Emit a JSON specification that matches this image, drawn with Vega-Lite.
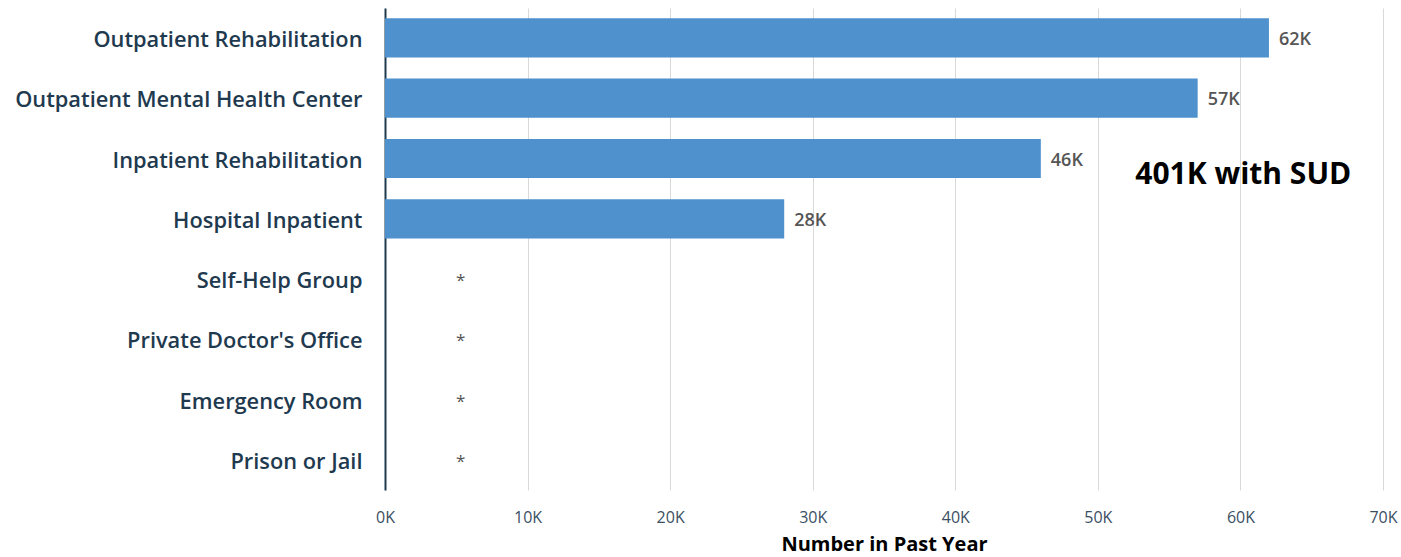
{
  "$schema": "https://vega.github.io/schema/vega-lite/v6.json",
  "width": 998,
  "height": 482,
  "autosize": {"type": "none"},
  "padding": {"left": 385, "top": 8, "right": 18, "bottom": 67},
  "config": {"view": {"stroke": null}, "font": "Open Sans"},
  "data": {
    "values": [
      {"setting": "Outpatient Rehabilitation", "value": 62000, "label": "62K"},
      {"setting": "Outpatient Mental Health Center", "value": 57000, "label": "57K"},
      {"setting": "Inpatient Rehabilitation", "value": 46000, "label": "46K"},
      {"setting": "Hospital Inpatient", "value": 28000, "label": "28K"},
      {"setting": "Self-Help Group", "value": null, "label": "*"},
      {"setting": "Private Doctor's Office", "value": null, "label": "*"},
      {"setting": "Emergency Room", "value": null, "label": "*"},
      {"setting": "Prison or Jail", "value": null, "label": "*"}
    ]
  },
  "encoding": {
    "y": {
      "field": "setting",
      "type": "nominal",
      "sort": null,
      "scale": {"paddingInner": 0.35, "paddingOuter": 0.17},
      "axis": {
        "title": null,
        "ticks": false,
        "domainColor": "#1f3a4f",
        "domainWidth": 2,
        "labelFontSize": 21.8,
        "labelFontWeight": 600,
        "labelColor": "#1f3a4f",
        "labelPadding": 23,
        "labelOffset": 2,
        "labelLimit": 400,
        "labelFont": "Open Sans"
      }
    }
  },
  "layer": [
    {
      "mark": {"type": "bar", "color": "#4e91cd"},
      "encoding": {
        "x": {
          "field": "value",
          "type": "quantitative",
          "scale": {"domain": [0, 70000], "nice": false},
          "axis": {
            "values": [0, 10000, 20000, 30000, 40000, 50000, 60000, 70000],
            "labelExpr": "datum.value / 1000 + 'K'",
            "labelFlush": false,
            "domain": false,
            "ticks": false,
            "gridColor": "#d9d9d9",
            "gridWidth": 1,
            "labelFontSize": 16,
            "labelColor": "#3b4f63",
            "labelPadding": 19,
            "title": "Number in Past Year",
            "titleFontSize": 20,
            "titleFontWeight": "bold",
            "titleColor": "#000000",
            "titlePadding": 9
          }
        }
      }
    },
    {
      "transform": [{"filter": "datum.value != null"}],
      "mark": {"type": "text", "align": "left", "dx": 10, "dy": 2, "fontSize": 18, "fontWeight": 600, "color": "#555555"},
      "encoding": {
        "x": {"field": "value", "type": "quantitative"},
        "text": {"field": "label"}
      }
    },
    {
      "transform": [{"filter": "datum.value == null"}],
      "mark": {"type": "text", "align": "center", "dy": 2, "fontSize": 17, "color": "#555555"},
      "encoding": {
        "x": {"datum": 5300},
        "text": {"field": "label"}
      }
    },
    {
      "data": {"values": [{"note": "401K with SUD", "setting": "Inpatient Rehabilitation"}]},
      "mark": {"type": "text", "align": "center", "dy": 16, "fontSize": 30, "fontWeight": "bold", "color": "#000000"},
      "encoding": {
        "x": {"datum": 60200},
        "y": {"field": "setting", "type": "nominal", "sort": null},
        "text": {"field": "note"}
      }
    }
  ]
}
